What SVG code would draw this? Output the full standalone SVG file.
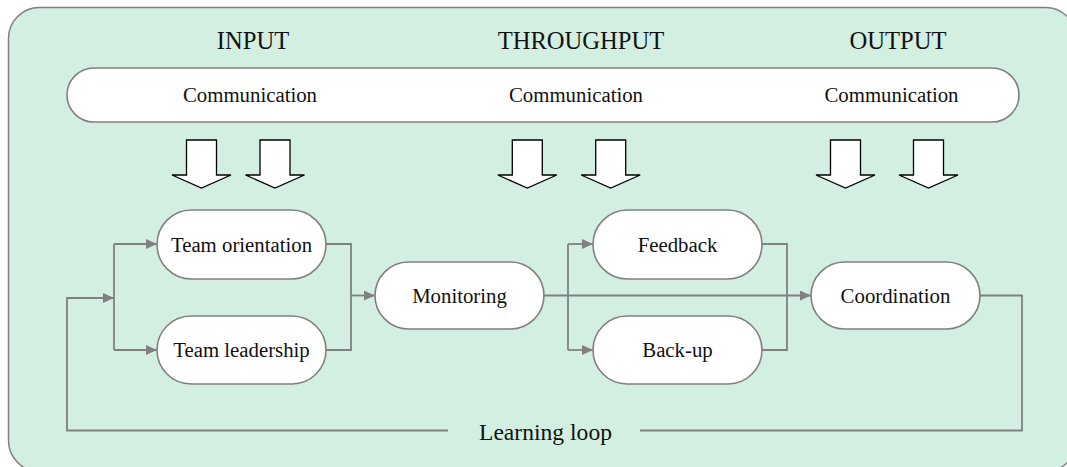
<svg xmlns="http://www.w3.org/2000/svg" width="1067" height="467" viewBox="0 0 1067 467">
<style>
.bg{fill:#d3efe1;stroke:#808080;stroke-width:1.5}
.node{fill:#ffffff;stroke:#808080;stroke-width:1.6}
.blk{fill:#ffffff;stroke:#000000;stroke-width:1.3;stroke-linejoin:miter}
.ln{fill:none;stroke:#808080;stroke-width:1.8}
.t{font-family:"Liberation Serif","Times New Roman",serif;fill:#111111;text-anchor:middle}
.nt{font-size:20.8px}
.hd{font-size:24.6px}
.ll{font-size:23.6px}
</style>
<defs>
<marker id="ah" markerUnits="userSpaceOnUse" markerWidth="11" markerHeight="10" refX="11" refY="5" orient="auto">
<path d="M0,0 L11,5 L0,10 z" fill="#808080"/>
</marker>
<path id="blk" d="M-15,140 L15,140 L15,175 L29.5,175 L0,188 L-29.5,175 L-15,175 Z"/>
</defs>
<rect class="bg" x="8.5" y="7.5" width="1068" height="464" rx="31"/>
<g id="headers">
<text class="t hd" x="253" y="49">INPUT</text>
<text class="t hd" x="581" y="49">THROUGHPUT</text>
<text class="t hd" x="898" y="49">OUTPUT</text>
</g>
<g id="communication">
<rect class="node" x="67" y="68" width="952" height="54" rx="27"/>
<text class="t nt" x="250" y="102">Communication</text>
<text class="t nt" x="576" y="102">Communication</text>
<text class="t nt" x="891.5" y="102">Communication</text>
</g>
<g id="block-arrows">
<use href="#blk" class="blk" transform="translate(201.5,0)"/>
<use href="#blk" class="blk" transform="translate(275,0)"/>
<use href="#blk" class="blk" transform="translate(527.3,0)"/>
<use href="#blk" class="blk" transform="translate(610.7,0)"/>
<use href="#blk" class="blk" transform="translate(845.5,0)"/>
<use href="#blk" class="blk" transform="translate(928.5,0)"/>
</g>
<g id="connectors">
<polyline class="ln" points="114,244 114,350"/>
<polyline class="ln" points="114,244 157,244" marker-end="url(#ah)"/>
<polyline class="ln" points="114,350 157,350" marker-end="url(#ah)"/>
<polyline class="ln" points="326,244 351,244 351,350 326,350"/>
<polyline class="ln" points="351,295.5 375,295.5" marker-end="url(#ah)"/>
<polyline class="ln" points="544,295.5 811,295.5" marker-end="url(#ah)"/>
<polyline class="ln" points="568,244 568,350"/>
<polyline class="ln" points="568,244 593,244" marker-end="url(#ah)"/>
<polyline class="ln" points="568,350 593,350" marker-end="url(#ah)"/>
<polyline class="ln" points="762,244 787,244 787,350 762,350"/>
<polyline class="ln" points="980,295.5 1022,295.5 1022,430.5 640,430.5"/>
<polyline class="ln" points="448,430.5 67,430.5 67,298 114,298" marker-end="url(#ah)"/>
<text class="t ll" x="545.5" y="440">Learning loop</text>
</g>
<g id="team-orientation">
<rect class="node" x="157" y="210" width="169" height="69" rx="34.5"/>
<text class="t nt" x="241.5" y="251.5">Team orientation</text>
</g>
<g id="team-leadership">
<rect class="node" x="157" y="316" width="169" height="68" rx="34"/>
<text class="t nt" x="241.5" y="357">Team leadership</text>
</g>
<g id="monitoring">
<rect class="node" x="375" y="262" width="169" height="67" rx="33.5"/>
<text class="t nt" x="459.5" y="302.5">Monitoring</text>
</g>
<g id="feedback">
<rect class="node" x="593" y="210" width="169" height="69" rx="34.5"/>
<text class="t nt" x="677.5" y="251.5">Feedback</text>
</g>
<g id="back-up">
<rect class="node" x="593" y="316" width="169" height="68" rx="34"/>
<text class="t nt" x="677.5" y="357">Back-up</text>
</g>
<g id="coordination">
<rect class="node" x="811" y="262" width="169" height="67" rx="33.5"/>
<text class="t nt" x="895.5" y="302.5">Coordination</text>
</g>
</svg>
